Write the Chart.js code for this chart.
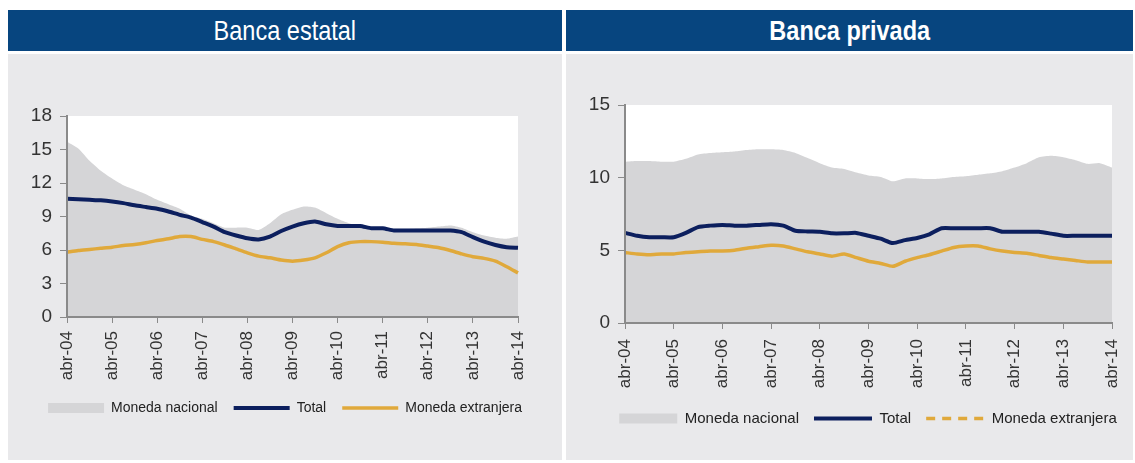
<!DOCTYPE html>
<html>
<head>
<meta charset="utf-8">
<script src="https://cdn.jsdelivr.net/npm/chart.js@4.4.1/dist/chart.umd.min.js"></script>
<style>
  html, body { margin: 0; padding: 0; background: #fff; }
  body { width: 1135px; height: 463px; position: relative; overflow: hidden;
         font-family: 'Liberation Sans', Arial, sans-serif; }
  .panel { position: absolute; top: 10px; height: 450px; background: #e9e9eb; }
  .head { height: 41px; line-height: 41px; background: #07457f; color: #fff; text-align: center;
          font-size: 28px; border-bottom: 3px solid #fff; }
  .head span { display: inline-block; transform: scaleX(0.84); }
  .box { position: absolute; top: 44px; left: 0; right: 0; bottom: 0; }
</style>
</head>
<body>
<div class="panel" style="left:8px;width:554px">
  <div class="head"><span>Banca estatal</span></div>
  <div class="box"><canvas id="estatal"></canvas></div>
</div>
<div class="panel" style="left:566px;width:567px">
  <div class="head" style="font-weight:bold"><span>Banca privada</span></div>
  <div class="box" style="left:17px;right:auto;width:570px"><canvas id="privada"></canvas></div>
</div>
<script>
// trimestral, abr-04 .. abr-14
const meses = ['abr', 'jul', 'oct', 'ene'];
const labels = [];
for (let i = 0; i <= 40; i++) {
  const yr = 4 + Math.floor((i + 3) / 4);
  labels.push(meses[i % 4] + '-' + String(yr).padStart(2, '0'));
}

// Banca estatal
const estatalNacional = [15.7, 15.1, 14.0, 13.1, 12.4, 11.8, 11.4, 11.0, 10.5, 10.1, 9.7, 9.1, 8.8, 8.4, 8.0, 8.0, 8.0, 7.8, 8.4, 9.2,
  9.6, 9.9, 9.8, 9.3, 8.8, 8.4, 8.1, 8.0, 7.95, 7.9, 7.9, 7.95, 8.0, 8.1, 8.2, 8.0, 7.6, 7.3, 7.1, 7.0, 7.2];
const estatalTotal = [10.6, 10.55, 10.5, 10.45, 10.35, 10.2, 10.0, 9.85, 9.7, 9.45, 9.15, 8.9, 8.5, 8.1, 7.6, 7.3, 7.05, 6.95, 7.2, 7.7,
  8.1, 8.4, 8.55, 8.3, 8.15, 8.15, 8.15, 7.95, 7.95, 7.75, 7.75, 7.75, 7.75, 7.75, 7.75, 7.6, 7.15, 6.75, 6.45, 6.25, 6.2];
const estatalExtranjera = [5.8, 5.95, 6.05, 6.15, 6.25, 6.4, 6.5, 6.65, 6.85, 7.0, 7.2, 7.2, 6.95, 6.75, 6.45, 6.1, 5.75, 5.45, 5.3, 5.1,
  5.0, 5.1, 5.3, 5.75, 6.3, 6.65, 6.75, 6.75, 6.7, 6.6, 6.55, 6.5, 6.35, 6.2, 5.95, 5.65, 5.4, 5.25, 5.0, 4.5, 3.95];

// Banca privada
const privadaNacional = [11.1, 11.15, 11.15, 11.1, 11.1, 11.3, 11.6, 11.7, 11.75, 11.8, 11.9, 11.95, 11.95, 11.9, 11.7, 11.35, 11.0, 10.7, 10.6, 10.35,
  10.15, 10.05, 9.75, 9.95, 9.95, 9.9, 9.95, 10.05, 10.1, 10.2, 10.3, 10.45, 10.7, 11.0, 11.4, 11.5, 11.4, 11.2, 10.95, 11.0, 10.7];
const privadaTotal = [6.2, 6.0, 5.9, 5.9, 5.9, 6.2, 6.6, 6.7, 6.75, 6.7, 6.7, 6.75, 6.8, 6.7, 6.35, 6.3, 6.28, 6.17, 6.17, 6.2,
  6.0, 5.8, 5.5, 5.7, 5.85, 6.1, 6.52, 6.52, 6.52, 6.52, 6.52, 6.28, 6.28, 6.28, 6.28, 6.15, 6.0, 6.0, 6.0, 6.0, 6.0];
const privadaExtranjera = [4.85, 4.75, 4.7, 4.75, 4.75, 4.85, 4.9, 4.95, 4.95, 5.0, 5.15, 5.25, 5.35, 5.3, 5.1, 4.9, 4.75, 4.6, 4.75, 4.5,
  4.25, 4.1, 3.9, 4.25, 4.5, 4.7, 4.95, 5.2, 5.3, 5.3, 5.1, 4.95, 4.85, 4.8, 4.65, 4.5, 4.4, 4.3, 4.2, 4.2, 4.2];

const estatalTicks = [0, 3, 6, 9, 12, 15, 18];
const privadaTicks = [0, 5, 10, 15];

const NAVY = '#0c1f5e';
const GOLD = '#e0a93b';
const GRIS = '#d5d5d7';
const EJE = '#8a8a8a';

Chart.defaults.font.family = "'Liberation Sans', Arial, sans-serif";
Chart.defaults.color = '#333';

const plotBg = {
  id: 'plotBg',
  beforeDraw(chart) {
    const { ctx, chartArea: a } = chart;
    ctx.save();
    ctx.fillStyle = '#fff';
    ctx.fillRect(a.left, a.top, a.right - a.left, a.bottom - a.top);
    ctx.restore();
  }
};

function makeChart(id, nac, tot, ext, yTicks, lay, dashLegend) {
  const yMax = yTicks[yTicks.length - 1];
  return new Chart(document.getElementById(id), {
    type: 'line',
    data: {
      labels: labels,
      datasets: [
        { label: 'Moneda nacional', data: nac, yAxisID: 'y', backgroundColor: GRIS, borderColor: GRIS, borderWidth: 0,
          fill: 'origin', pointRadius: 0, tension: 0.2, order: 3, pointStyle: 'rect' },
        { label: 'Total', data: tot, yAxisID: 'y', borderColor: NAVY, backgroundColor: NAVY, borderWidth: 4,
          fill: false, pointRadius: 0, tension: 0.2, order: 1, pointStyle: 'line' },
        { label: 'Moneda extranjera', data: ext, yAxisID: 'y', borderColor: GOLD, backgroundColor: GOLD, borderWidth: 3.5,
          fill: false, pointRadius: 0, tension: 0.2, order: 2, pointStyle: 'line' }
      ]
    },
    options: {
      responsive: true,
      maintainAspectRatio: false,
      animation: false,
      layout: { padding: lay.padding },
      plugins: {
        tooltip: { enabled: false },
        legend: {
          position: 'bottom',
          labels: {
            usePointStyle: true,
            pointStyleWidth: lay.boxW,
            boxHeight: 10,
            padding: lay.legendPad,
            color: '#222',
            font: { size: lay.legendFont },
            sort: (a, b) => a.datasetIndex - b.datasetIndex,
            generateLabels: function(chart) {
              const items = Chart.defaults.plugins.legend.labels.generateLabels(chart);
              items.forEach(it => {
                if (it.datasetIndex === 2 && dashLegend) it.lineDash = [9, 7];
              });
              return items;
            }
          }
        }
      },
      scales: {
        x: {
          ticks: {
            autoSkip: false, maxRotation: 90, minRotation: 90, padding: lay.xPad,
            font: { size: 17 }, color: '#333',
            callback: (v, i) => (i % 4 === 0 ? labels[i] : null)
          },
          grid: { drawOnChartArea: false, tickLength: 6, color: EJE, z: 1 },
          border: { color: EJE, width: 2, z: 1 },
          afterFit: s => { s.height = lay.xHeight; }
        },
        y: {
          min: 0, max: yMax,
          afterBuildTicks: s => { s.ticks = yTicks.map(v => ({ value: v })); },
          ticks: { font: { size: 19 }, color: '#333', padding: 8 },
          grid: { drawOnChartArea: false, tickLength: 7, color: EJE, z: 1 },
          border: { color: EJE, width: 2, z: 1 },
          afterFit: s => { s.width = lay.yWidth; }
        },
        // empty right-hand strip, keeps the plot narrower than the legend
        margen: {
          type: 'linear', position: 'right', display: true,
          ticks: { display: false }, grid: { display: false }, border: { display: false },
          afterFit: s => { s.width = lay.rightWidth; }
        }
      }
    },
    plugins: [plotBg]
  });
}

makeChart('estatal', estatalNacional, estatalTotal, estatalExtranjera, estatalTicks, {
  padding: { top: 62, right: 0, left: 0, bottom: 35 },
  yWidth: 59, rightWidth: 44, xHeight: 68, xPad: 8,
  legendFont: 14, legendPad: 16, boxW: 56
}, false);
makeChart('privada', privadaNacional, privadaTotal, privadaExtranjera, privadaTicks, {
  padding: { top: 51, right: 0, left: 0, bottom: 24 },
  yWidth: 42, rightWidth: 41, xHeight: 73, xPad: 10,
  legendFont: 15, legendPad: 15, boxW: 58
}, true);
</script>
</body>
</html>
